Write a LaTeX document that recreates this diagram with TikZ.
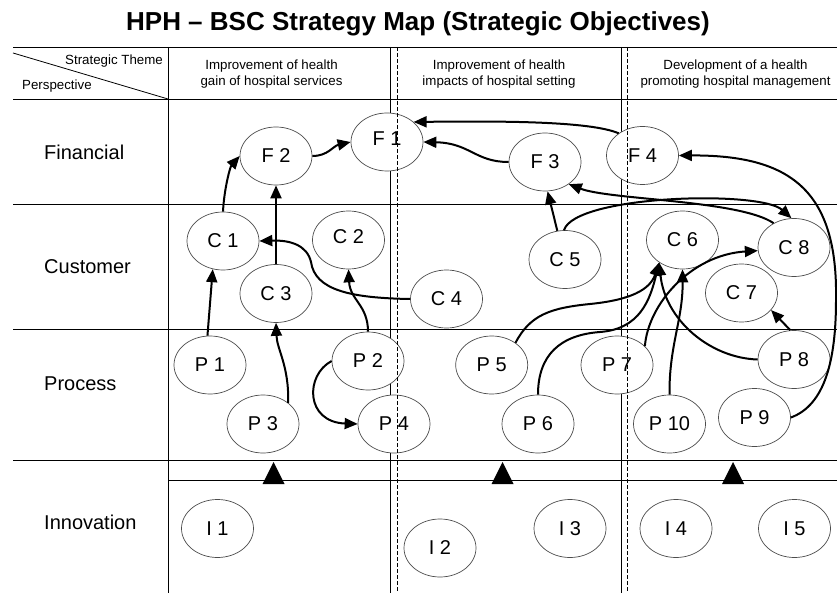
\documentclass[tikz,border=0pt]{standalone}
\usepackage{fontspec}
\setmainfont{Liberation Sans}
\usetikzlibrary{arrows.meta,shapes.geometric}
\begin{document}
\begin{tikzpicture}[x=1pt,y=-1pt,
  obj/.style={ellipse,draw=black!70,line width=0.7pt,fill=white,minimum width=72pt,minimum height=58pt,inner sep=0pt,font=\fontsize{20}{20}\selectfont},
  hi/.style={text depth=8pt,text height=14.3pt},
  arr/.style={-{Triangle[length=13pt,width=11pt]},line width=2pt},
  gridline/.style={line width=0.8pt},
  dgrid/.style={line width=0.6pt,dash pattern=on 4pt off 2pt},
  rowlab/.style={anchor=base west,inner sep=0pt,font=\fontsize{20}{20}\selectfont},
  hdr/.style={anchor=base,inner sep=0pt,font=\fontsize{13.3}{13.3}\selectfont},
  tri/.style={fill=black}
]
\useasboundingbox (0,0) rectangle (837,593);
% title
\node[anchor=base,inner sep=0pt,font=\fontsize{26}{26}\selectfont\bfseries] (title) at (418,31) {HPH – BSC Strategy Map (Strategic Objectives)};
% solid grid
\draw[gridline] (13,47) -- (837,47);
\draw[gridline] (13,99) -- (837,99);
\draw[gridline] (13,204) -- (837,204);
\draw[gridline] (13,329) -- (837,329);
\draw[gridline] (13,460) -- (837,460);
\draw[gridline] (168,480) -- (837,480);
\draw[gridline] (13,53) -- (168,99);
\draw[gridline] (168,47) -- (168,593);
\draw[gridline] (390,47) -- (390,593);
\draw[gridline] (621,47) -- (621,593);
% header texts
\node[hdr,anchor=base east] (st) at (163,65) {Strategic Theme};
\node[hdr,anchor=base west] (pe) at (22,90) {Perspective};
\node[hdr] (h1a) at (271.5,70) {Improvement of health};
\node[hdr] (h1b) at (271.5,86) {gain of hospital services};
\node[hdr] (h2a) at (499,70) {Improvement of health};
\node[hdr] (h2b) at (499,86) {impacts of hospital setting};
\node[hdr] (h3a) at (735.5,70) {Development of a health};
\node[hdr] (h3b) at (735.5,86) {promoting hospital management};
% row labels
\node[rowlab] (rf) at (44,159.3) {Financial};
\node[rowlab] (rc) at (44,274) {Customer};
\node[rowlab] (rp) at (44,390.7) {Process};
\node[rowlab] (ri) at (44,529) {Innovation};
% objectives
\node[obj,hi] (F1) at (387,142) {F 1};
\node[obj] (F2) at (276,156) {F 2};
\node[obj] (F3) at (545,162) {F 3};
\node[obj] (F4) at (642.5,155.5) {F 4};
\node[obj] (C1) at (223,241) {C 1};
\node[obj,hi] (C2) at (348.5,240) {C 2};
\node[obj] (C3) at (276,293.5) {C 3};
\node[obj] (C4) at (446.5,299) {C 4};
\node[obj] (C5) at (565,259.5) {C 5};
\node[obj] (C6) at (682.5,240) {C 6};
\node[obj] (C7) at (741.5,293) {C 7};
\node[obj] (C8) at (794,247.5) {C 8};
\node[obj] (P1) at (210,365) {P 1};
\node[obj] (P2) at (368,361) {P 2};
\node[obj] (P3) at (263,424) {P 3};
\node[obj] (P4) at (394,424) {P 4};
\node[obj] (P5) at (491.7,365) {P 5};
\node[obj] (P6) at (538,424) {P 6};
\node[obj] (P7) at (617,365) {P 7};
\node[obj] (P8) at (794,359.5) {P 8};
\node[obj] (P9) at (754.5,417.5) {P 9};
\node[obj] (P10) at (669.5,424) {P 10};
\node[obj] (I1) at (217.5,528.5) {I 1};
\node[obj] (I2) at (440,548) {I 2};
\node[obj] (I3) at (570,528.5) {I 3};
\node[obj] (I4) at (676,528.5) {I 4};
\node[obj] (I5) at (794.5,528.5) {I 5};
% dashed lines
\draw[dgrid] (397,47) -- (397,593);
\draw[dgrid] (627,47) -- (627,593);
% triangles
\fill[tri] (262.5,484) -- (273.5,462) -- (284.5,484) -- cycle;
\fill[tri] (491.5,484) -- (502.5,462) -- (513.5,484) -- cycle;
\fill[tri] (722,484) -- (733,462) -- (744,484) -- cycle;
% connectors
\draw[arr] (F2.east) .. controls (328,156) and (333,146) .. (F1.west);
\draw[arr] (C1.north) .. controls (224,190) and (230,167) .. (F2.west);
\draw[arr] (C3.north) -- (F2.south);
\draw[arr] (P1.95) -- (C1.250);
\draw[arr] (P3.40) .. controls (289,365) and (277,350) .. (C3.south);
\draw[arr] (C4.west) .. controls (350,298) and (315,290) .. (311,262) .. controls (307,245) and (290,240) .. (C1.east);
\draw[arr] (P2.north) .. controls (368,305) and (350,300) .. (C2.south);
\draw[arr] (P2.west) .. controls (305,375) and (305,422) .. (P4.west);
\draw[arr] (F4.137) .. controls (590,121) and (500,121) .. (F1.37);
\draw[arr] (F3.west) .. controls (475,162) and (470,143) .. (F1.east);
\draw[arr] (C5.105) -- (F3.275);
\draw[arr] (C8.130) .. controls (740,200) and (610,200) .. (F3.317);
\draw[arr] (C5.92) .. controls (575,195) and (760,190) .. (C8.95);
\draw[arr] (P9.east) .. controls (825,405) and (836,360) .. (836,300) .. controls (838,190) and (790,155) .. (F4.east);
\draw[arr] (P5.43) .. controls (530,315) and (550,308) .. (590,304) .. controls (630,300) and (650,290) .. (C6.224);
\draw[arr] (P6.north) .. controls (538,355) and (560,335) .. (600,332) .. controls (640,329) and (650,300) .. (C6.224);
\draw[arr] (P8.west) .. controls (710,358) and (665,320) .. (C6.224);
\draw[arr] (P10.north) .. controls (669,345) and (683,320) .. (C6.south);
\draw[arr] (P7.34) .. controls (648,305) and (690,255) .. (C8.185);
\draw[arr] (P8.97) -- (C7.330);
\end{tikzpicture}
\end{document}
